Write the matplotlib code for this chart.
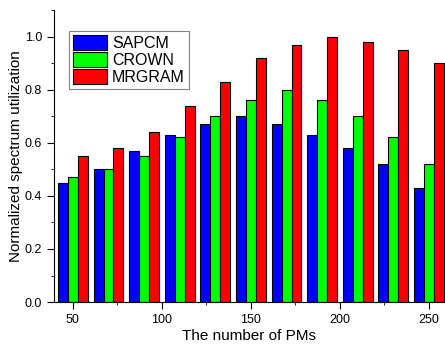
import matplotlib
matplotlib.use("Agg")
import matplotlib.pyplot as plt
from matplotlib.ticker import MultipleLocator
import numpy as np

plt.rcParams['font.family'] = ['Liberation Sans', 'DejaVu Sans']

pms = [50, 70, 90, 110, 130, 150, 170, 190, 210, 230, 250]
sapcm = [0.45, 0.50, 0.57, 0.63, 0.67, 0.70, 0.67, 0.63, 0.58, 0.52, 0.43]
crown = [0.47, 0.50, 0.55, 0.62, 0.70, 0.76, 0.80, 0.76, 0.70, 0.62, 0.52]
mrgram = [0.55, 0.58, 0.64, 0.74, 0.83, 0.92, 0.97, 1.00, 0.98, 0.95, 0.90]

fig = plt.figure(figsize=(4.45, 3.48), dpi=100)
ax = fig.add_axes([0.121, 0.132, 0.879, 0.839])

x = np.array(pms)
w = 5.6
ax.bar(x - w, sapcm, w, color="#0000ff", edgecolor="black", linewidth=0.8, label="SAPCM")
ax.bar(x, crown, w, color="#00ff00", edgecolor="black", linewidth=0.8, label="CROWN")
ax.bar(x + w, mrgram, w, color="#ff0000", edgecolor="black", linewidth=0.8, label="MRGRAM")

ax.set_xlim(39.3, 259)
ax.set_ylim(0, 1.1)
ax.set_xticks([50, 100, 150, 200, 250])
ax.xaxis.set_minor_locator(MultipleLocator(25))
ax.set_yticks(np.arange(0, 1.01, 0.2))
ax.yaxis.set_minor_locator(MultipleLocator(0.1))
ax.yaxis.set_major_formatter(matplotlib.ticker.FormatStrFormatter("%.1f"))
ax.tick_params(which="major", direction="out", length=5, labelsize=9)
ax.tick_params(which="minor", direction="out", length=2.5)

ax.spines["top"].set_visible(False)
ax.spines["right"].set_visible(False)

ax.set_xlabel("The number of PMs", fontsize=11, labelpad=2)
ax.set_ylabel("Normalized spectrum utilization", fontsize=11, labelpad=1)

leg = ax.legend(loc="upper left", bbox_to_anchor=(0.04, 0.928), fontsize=11.5,
                fancybox=False, framealpha=1, edgecolor="gray",
                handlelength=2.1, handleheight=1.1, labelspacing=0.05,
                handletextpad=0.3, borderpad=0.25, borderaxespad=0)
leg.get_frame().set_linewidth(0.8)

fig.savefig("out.png", dpi=100)
